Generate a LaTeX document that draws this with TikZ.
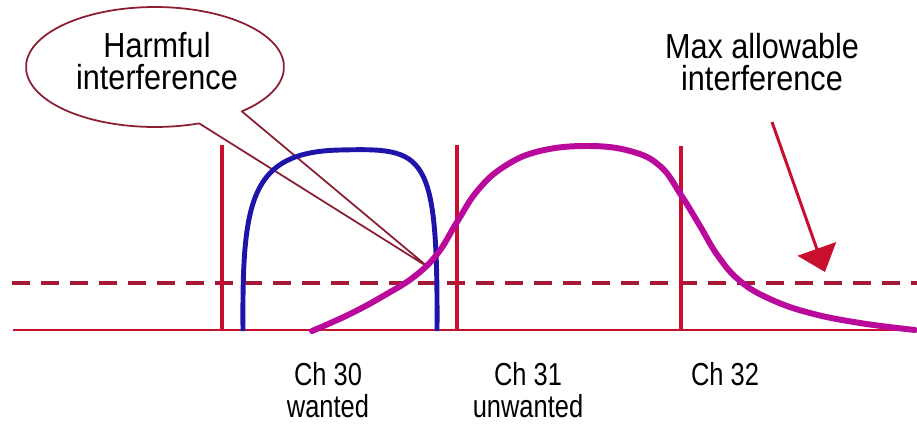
\documentclass[tikz,border=0pt]{standalone}
\usepackage{fontspec}
\setmainfont{Liberation Sans}
\newfontfamily\calloutfont[FakeStretch=0.88]{Liberation Sans}
\newfontfamily\chanfont[FakeStretch=0.8]{Liberation Sans}
\usetikzlibrary{arrows.meta,calc}
\definecolor{chred}{RGB}{200,16,46}
\definecolor{limred}{RGB}{165,25,55}
\definecolor{wantblue}{RGB}{30,20,170}
\definecolor{unwantmag}{RGB}{185,10,155}
\definecolor{bubbleedge}{RGB}{140,30,50}
\tikzset{
  axisline/.style={draw=chred, line width=1.7pt},
  chedge/.style={draw=chred, line width=2.6pt},
  chedgethin/.style={draw=chred, line width=1.8pt},
  limit/.style={draw=limred, line width=2pt, dash pattern=on 0.36cm off 0.22cm},
  wanted/.style={draw=wantblue, line width=2.8pt},
  unwanted/.style={draw=unwantmag, line width=3.4pt, line cap=round},
  bubble/.style={draw=bubbleedge, line width=1pt, fill=white, line join=round},
  toplabel/.style={font=\calloutfont\fontsize{19.8}{18.7}\selectfont, align=center, inner sep=0pt},
  chlabel/.style={font=\chanfont\fontsize{18.1}{18.2}\selectfont, align=center, inner sep=0pt, anchor=north},
  pointer/.style={-{Triangle[length=4.9mm,width=8.1mm]}, draw=chred, line width=1.7pt}
}

\begin{document}
\begin{tikzpicture}[x=0.02cm, y=-0.02cm]
  \useasboundingbox (0,0) rectangle (917,423);
  \coordinate (harm) at (155,67);
  \coordinate (harmtip) at (428,267);
  \draw[bubble] ($(harm)+(-47.7:2.58cm and 1.2cm)$) arc[start angle=-47.7, end angle=290, x radius=2.58cm, y radius=1.2cm] -- (harmtip) -- cycle;
  \node[toplabel] (harmtxt) at (157,61) {Harmful\\interference};
  \node[toplabel] (maxtxt) at (762,62) {Max allowable\\interference};
  \coordinate (maxtail) at (772,122);
  \coordinate (maxhead) at (825,272);
  \draw[pointer] (maxtail) -- (maxhead);
  \draw[axisline] (13,330) -- (917,330);
  \draw[limit] (12,283) -- (917,283);
  \draw[chedge] (222,145) -- (222,331);
  \draw[chedge] (457,145) -- (457,331);
  \draw[chedgethin] (681,146) -- (681,331);
  \draw[wanted] (243,331) .. controls (242,200) and (250,152) .. (340,150) .. controls (425,148) and (438,150) .. (437,331);
  \draw[unwanted] plot[smooth, tension=0.7] coordinates {(312,331) (350,314) (385,295) (415,276) (438,253) (457,222) (478,190) (505,166) (540,151) (587,146) (630,151) (660,166) (681,195) (700,226) (718,256) (740,281) (770,299) (810,313) (860,323) (915,330)};
  \node[chlabel] (ch30) at (328,362) {Ch 30\\wanted};
  \node[chlabel] (ch31) at (528,362) {Ch 31\\unwanted};
  \node[chlabel] (ch32) at (725,362) {Ch 32};
\end{tikzpicture}
\end{document}
